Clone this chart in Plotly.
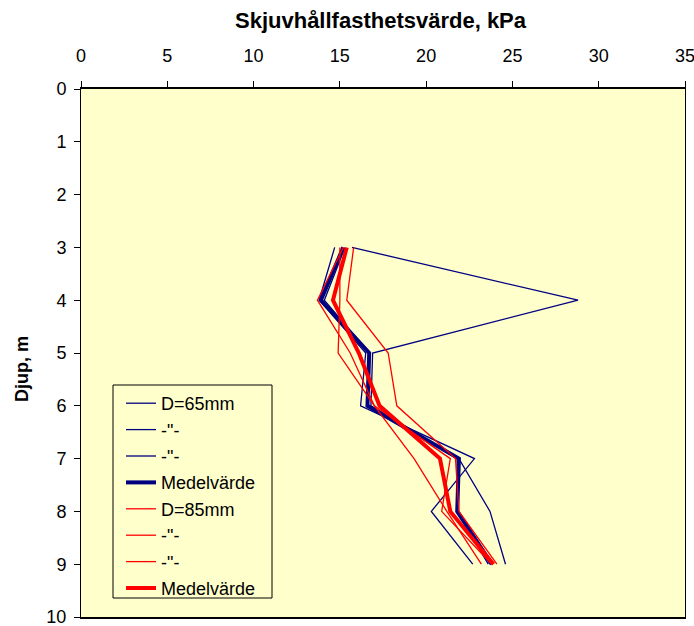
import plotly.graph_objects as go

depth = [3, 4, 5, 6, 7, 8, 9]

b65_1 = [15.7, 28.8, 16.9, 16.8, 21.9, 23.7, 24.6]
b65_2 = [14.7, 13.8, 16.5, 16.2, 22.8, 20.3, 22.7]
b65_3 = [15.3, 14.1, 16.7, 16.6, 21.8, 21.8, 23.6]
b65_mean = [15.2, 13.9, 16.7, 16.6, 21.9, 21.8, 23.8]

r85_1 = [15.2, 13.7, 15.6, 17.0, 21.4, 20.9, 23.8]
r85_2 = [15.0, 15.0, 14.9, 17.0, 19.3, 21.2, 23.2]
r85_3 = [15.8, 15.4, 17.8, 18.3, 21.7, 21.9, 24.1]
r85_mean = [15.4, 14.6, 16.1, 17.3, 20.8, 21.4, 23.9]

names = ["D=65mm", '-"-', '-"-', "Medelvärde", "D=85mm", '-"-', '-"-', "Medelvärde"]
series = [b65_1, b65_2, b65_3, b65_mean, r85_1, r85_2, r85_3, r85_mean]
colors = ["#000080"] * 4 + ["#FF0000"] * 4
widths = [1.3, 1.3, 1.3, 4, 1.3, 1.3, 1.3, 4]

fig = go.Figure()
for i, (nm, s, c, w) in enumerate(zip(names, series, colors, widths)):
    fig.add_trace(go.Scatter(x=s, y=depth, mode="lines", name=nm,
                             line=dict(color=c, width=w)))

font = "Liberation Sans, Arial, sans-serif"
L, R, T, B = 81, 9, 89, 9
pw = 694 - L - R
ph = 626 - T - B


def px(xp):
    return (xp - L) / pw


def py(yp):
    return 1 - (yp - T) / ph


fig.update_layout(
    width=694, height=626,
    margin=dict(l=L, r=R, t=T, b=B),
    paper_bgcolor="white", plot_bgcolor="#FFFFCC",
    font=dict(family=font, size=18, color="black"),
    showlegend=True,
    legend=dict(x=px(121), y=py(385), xanchor="left", yanchor="top",
                bgcolor="rgba(0,0,0,0)", borderwidth=0,
                font=dict(size=18), itemwidth=30),
    shapes=[dict(type="rect", xref="paper", yref="paper", layer="above",
                 x0=px(113), x1=px(272), y0=py(385), y1=py(598),
                 line=dict(color="black", width=1), fillcolor="#FFFFCC")],
    xaxis=dict(range=[0, 35], dtick=5, side="top", showgrid=False, zeroline=False,
               ticks="outside", ticklen=6, tickcolor="black", showline=True,
               linecolor="black", linewidth=1.5, mirror=True, automargin=False,
               ticklabeloverflow="allow", ticklabelstandoff=12,
               tickfont=dict(size=18)),
    yaxis=dict(range=[10, 0], dtick=1, showgrid=False, zeroline=False,
               ticks="outside", ticklen=6, tickcolor="black", showline=True,
               linecolor="black", linewidth=1, mirror=True, automargin=False,
               ticklabeloverflow="allow", ticklabelstandoff=4,
               tickfont=dict(size=18)),
    annotations=[
        dict(text="<b>Skjuvhållfasthetsvärde, kPa</b>", xref="paper", yref="paper",
             x=px(381), y=py(20), xanchor="center", yanchor="middle",
             showarrow=False, font=dict(size=22)),
        dict(text="<b>Djup, m</b>", xref="paper", yref="paper",
             x=px(22), y=py(369), xanchor="center", yanchor="middle",
             textangle=-90, showarrow=False, font=dict(size=18)),
    ],
)
fig.write_html("out.html")
